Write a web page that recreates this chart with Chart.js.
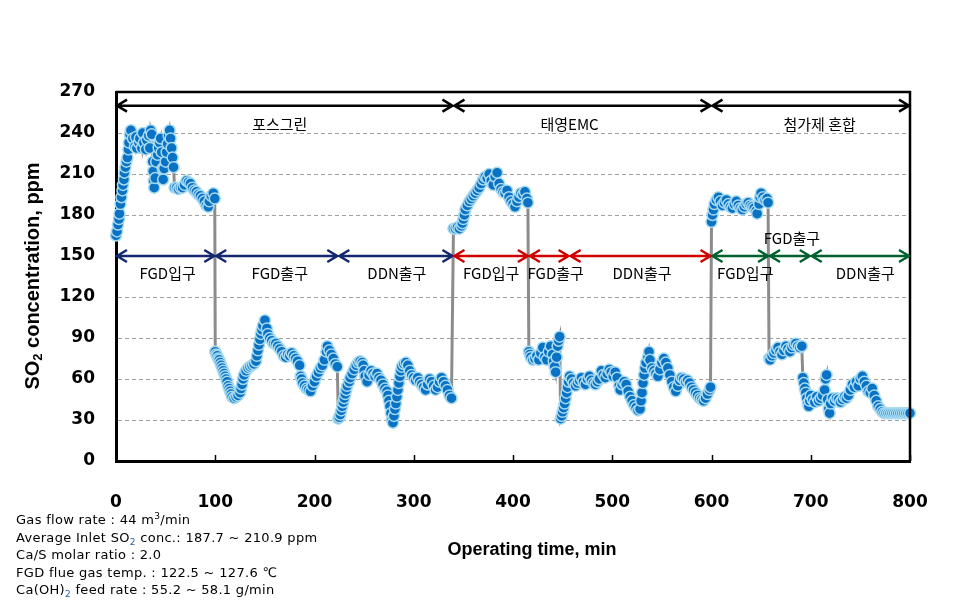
<!DOCTYPE html>
<html>
<head>
<meta charset="utf-8">
<script src="https://cdn.jsdelivr.net/npm/chart.js@4.4.0/dist/chart.umd.min.js"></script>
<style>
    html, body { margin: 0; padding: 0; background: #fff; }
    #wrap { position: relative; width: 980px; height: 601px; }
    #notes {
        position: absolute; left: 16px; top: 511px;
        font: 13px "DejaVu Sans", sans-serif; line-height: 17.5px; color: #000;
        letter-spacing: 0.3px; white-space: nowrap;
    }
    #notes sub { font-size: 9px; color: #1f5fa8; vertical-align: -3px; line-height: 0; }
    #notes sup { font-size: 9px; vertical-align: 5px; line-height: 0; }
</style>
</head>
<body>
<div id="wrap">
    <canvas id="chart" width="980" height="601"></canvas>
    <div id="notes">
        Gas flow rate : 44 m<sup>3</sup>/min<br>
        Average Inlet SO<sub>2</sub> conc.: 187.7 ~ 210.9 ppm<br>
        Ca/S molar ratio : 2.0<br>
        FGD flue gas temp. : 122.5 ~ 127.6 ℃<br>
        Ca(OH)<sub>2</sub> feed rate : 55.2 ~ 58.1 g/min
    </div>
</div>
<script>
// Operating time (min) of each measurement
const minutes = [
    // 포스그린 - FGD입구
    0, 1, 2, 3, 3.5, 4.5, 5.5, 6.5, 7, 8,
    8.5, 9.5, 10.5, 11.5, 12.5, 13, 14, 15, 17, 19,
    20, 21, 23, 24, 26, 27, 28, 30, 31, 33,
    34, 35, 36, 37, 37.5, 38, 38.5, 39.5, 40.5, 42,
    43, 44, 45, 46, 47, 47.5, 48.5, 50, 51, 52,
    53, 54, 55, 56, 57, 58, 59, 61, 63, 65,
    67, 69, 71, 73, 75, 77, 79, 81, 83, 85,
    87, 89, 91, 93, 94, 96, 98, 99.5,
    // 포스그린 - FGD출구
    100, 101, 102, 103, 104, 105, 106, 107, 108, 109,
    110, 111, 112, 113, 114, 115, 116, 117, 119, 121,
    123, 125, 126, 127, 128, 129, 131, 133, 135, 137,
    139, 141, 142, 143, 144, 145, 146, 147, 148, 150,
    152, 153, 155, 157, 159, 161, 163, 165, 167, 169,
    171, 173, 175, 177, 179, 181, 183, 185, 186, 187,
    188, 190, 192, 194, 196, 198, 200, 202, 204, 206,
    208, 210, 212, 213, 215, 217, 219, 221, 223,
    // 포스그린 - DDN출구
    224, 225, 226, 227, 228, 229, 230, 231, 232, 233,
    235, 236, 238, 240, 242, 244, 246, 248, 249, 250,
    251, 253, 255, 257, 259, 261, 263, 265, 267, 269,
    271, 273, 274, 275, 276, 277, 278, 279, 280, 281,
    282, 283, 284, 285, 286, 287, 288, 290, 292, 294,
    296, 298, 300, 302, 304, 306, 308, 310, 312, 314,
    316, 318, 320, 322, 324, 326, 328, 330, 332, 334,
    336, 338,
    // 태영EMC - FGD입구
    340, 342, 344, 346, 348, 349, 350, 351, 352, 354,
    356, 358, 360, 362, 364, 366, 368, 370, 372, 374,
    376, 378, 380, 382, 384, 386, 388, 390, 392, 394,
    396, 398, 400, 402, 404, 406, 408, 410, 412, 414,
    415,
    // 태영EMC - FGD출구
    416, 417, 418, 420, 422, 424, 426, 428, 430, 432,
    434, 436, 438, 440, 441, 442, 443, 444, 445, 446,
    447,
    // 태영EMC - DDN출구
    448, 449, 450, 451, 452, 453, 454, 455, 456, 457,
    459, 461, 463, 465, 467, 469, 471, 473, 475, 477,
    479, 481, 483, 485, 487, 489, 491, 493, 495, 497,
    499, 501, 503, 505, 507, 508, 510, 512, 514, 516,
    518, 520, 522, 524, 526, 528, 529, 530, 531, 532,
    533, 534, 536, 537, 538, 540, 542, 544, 546, 548,
    550, 552, 554, 556, 558, 560, 562, 564, 566, 568,
    570, 572, 574, 576, 578, 580, 582, 584, 586, 588,
    590, 592, 594, 596, 598, 599,
    // 첨가제 혼합 - FGD입구
    600, 601, 602, 603, 605, 607, 609, 611, 613, 615,
    617, 619, 621, 623, 625, 627, 629, 631, 633, 635,
    637, 639, 641, 643, 645, 646, 648, 649, 650, 652,
    654, 656, 657,
    // 첨가제 혼합 - FGD출구
    658, 659, 661, 663, 665, 667, 669, 671, 673, 675,
    677, 679, 681, 683, 685, 687, 689, 691,
    // 첨가제 혼합 - DDN출구
    692, 693, 694, 695, 696, 697, 698, 699, 700, 702,
    704, 706, 708, 710, 712, 714, 715, 716, 717, 718,
    719, 720, 722, 724, 726, 728, 730, 732, 734, 736,
    738, 740, 742, 744, 746, 748, 750, 752, 754, 756,
    758, 760, 762, 764, 766, 768, 770, 772, 774, 776,
    778, 780, 782, 784, 786, 788, 790, 792, 794, 796,
    798, 800
];

// SO2 concentration (ppm), same order as minutes
const so2ppm = [
    165, 168, 173, 177, 181, 188, 193, 198, 202, 206,
    211, 215, 219, 222, 228, 233, 239, 242, 236, 230,
    237, 229, 233, 236, 229, 240, 233, 228, 235, 238,
    229, 242, 239, 219, 212, 205, 200, 207, 219, 224,
    229, 233, 236, 226, 214, 206, 214, 219, 226, 232,
    238, 242, 236, 229, 222, 215, 200, 200, 199, 200,
    200, 202, 205, 204, 203, 200, 198, 197, 195, 194,
    192, 190, 187, 186, 190, 194, 196, 192,

    80, 78, 77, 75, 74, 72, 70, 68, 66, 64,
    62, 60, 58, 55, 53, 51, 49, 47, 46, 47,
    48, 50, 53, 56, 60, 63, 66, 68, 69, 70,
    71, 73, 77, 81, 85, 89, 93, 96, 99, 103,
    97, 93, 90, 88, 86, 86, 84, 82, 80, 77,
    76, 78, 77, 79, 77, 75, 73, 70, 62, 60,
    57, 55, 53, 52, 51, 55, 58, 62, 65, 68,
    70, 74, 80, 84, 81, 78, 75, 71, 69,

    31, 32, 34, 37, 40, 43, 46, 49, 52, 55,
    58, 61, 64, 67, 70, 72, 73, 72, 70, 66,
    62, 58, 63, 66, 64, 62, 64, 61, 59, 56,
    53, 51, 48, 44, 40, 35, 30, 28, 33, 38,
    42, 47, 52, 57, 62, 66, 69, 71, 72, 70,
    66, 63, 61, 59, 61, 58, 56, 54, 52, 56,
    60, 58, 55, 52, 54, 58, 61, 58, 55, 52,
    48, 46,

    170, 170, 171, 170, 172, 174, 177, 180, 184, 187,
    190, 192, 194, 196, 198, 200, 203, 206, 208, 207,
    210, 205, 202, 208, 211, 203, 199, 197, 196, 198,
    193, 190, 188, 186, 190, 193, 196, 195, 197, 192,
    189,

    80, 78, 76, 74, 75, 77, 74, 79, 83, 76,
    74, 80, 84, 78, 73, 69, 65, 76, 84, 88,
    91,

    31, 33, 36, 39, 42, 46, 50, 54, 58, 62,
    60, 57, 55, 57, 59, 61, 58, 56, 60, 62,
    59, 57, 56, 58, 60, 66, 63, 61, 64, 67,
    65, 62, 65, 61, 55, 52, 56, 58, 56, 51,
    47, 44, 41, 39, 37, 38, 44, 50, 57, 63,
    68, 72, 76, 80, 74, 68, 66, 64, 62, 67,
    72, 75, 72, 68, 63, 58, 54, 51, 55, 59,
    61, 60, 58, 59, 57, 54, 52, 50, 48, 46,
    45, 44, 46, 49, 52, 54,

    175, 180, 184, 188, 191, 193, 190, 187, 189, 191,
    188, 186, 185, 188, 190, 187, 185, 184, 186, 188,
    189, 187, 186, 185, 183, 181, 188, 193, 196, 193,
    191, 192, 189,

    75, 74, 77, 79, 81, 83, 80, 78, 81, 84,
    82, 80, 83, 85, 86, 84, 83, 84,

    61, 57, 53, 50, 46, 42, 40, 44, 48, 45,
    43, 47, 44, 46, 48, 52, 60, 63, 45, 38,
    35, 42, 46, 44, 46, 45, 43, 45, 47, 46,
    48, 52, 56, 54, 58, 55, 60, 62, 58, 55,
    51, 50, 53, 48, 44, 40, 38, 36, 35, 35,
    35, 35, 35, 35, 35, 35, 35, 35, 35, 35,
    35, 35
];

// Absorbent phases (top arrows)
const phaseEdges = [0, 340, 600, 800];
const phaseNames = ['포스그린', '태영EMC', '첨가제 혼합'];
const phaseLabelAt = [165, 457, 709];

// Sampling points inside each phase (lower arrows)
const pointEdges = [[0, 100, 224, 340], [340, 416, 457, 600], [600, 658, 700, 800]];
const pointNames = ['FGD입구', 'FGD출구', 'DDN출구'];
const pointLabelAt = [[52, 165, 283], [378, 443, 530], [634, 681, 755]];
const pointColors = ['#14286E', '#D00000', '#00602E'];

const xTicks = [0, 100, 200, 300, 400, 500, 600, 700, 800];

function drawArrow(ctx, x1, x2, y, color) {
    ctx.save();
    ctx.strokeStyle = color;
    ctx.lineWidth = 2.5;
    ctx.beginPath();
    ctx.moveTo(x1 + 1, y);
    ctx.lineTo(x2 - 1, y);
    ctx.moveTo(x1 + 11, y - 6);
    ctx.lineTo(x1 + 1, y);
    ctx.lineTo(x1 + 11, y + 6);
    ctx.moveTo(x2 - 11, y - 6);
    ctx.lineTo(x2 - 1, y);
    ctx.lineTo(x2 - 11, y + 6);
    ctx.stroke();
    ctx.restore();
}

const decorPlugin = {
    id: 'decor',
    afterDraw(chart) {
        const ctx = chart.ctx;
        const xs = chart.scales.x;
        const ys = chart.scales.y;
        const area = chart.chartArea;

        // top and right frame
        ctx.save();
        ctx.strokeStyle = '#000';
        ctx.lineWidth = 2.5;
        ctx.beginPath();
        ctx.moveTo(area.left, area.top);
        ctx.lineTo(area.right, area.top);
        ctx.lineTo(area.right, area.bottom);
        ctx.stroke();

        // inward x ticks
        ctx.lineWidth = 1.5;
        xTicks.forEach(t => {
            const px = Math.round(xs.getPixelForValue(t)) + 0.5;
            ctx.beginPath();
            ctx.moveTo(px, area.bottom);
            ctx.lineTo(px, area.bottom - 6);
            ctx.stroke();
        });
        ctx.restore();

        // phase arrows and labels
        ctx.save();
        ctx.fillStyle = '#000';
        ctx.textAlign = 'center';
        ctx.textBaseline = 'middle';
        ctx.font = '15px "Noto Sans CJK KR", sans-serif';
        const yTop = ys.getPixelForValue(260);
        for (let i = 0; i < phaseNames.length; i++) {
            drawArrow(ctx, xs.getPixelForValue(phaseEdges[i]), xs.getPixelForValue(phaseEdges[i + 1]), yTop, '#000');
            ctx.fillText(phaseNames[i], xs.getPixelForValue(phaseLabelAt[i]), ys.getPixelForValue(246.5));
        }

        const yLow = ys.getPixelForValue(150);
        for (let p = 0; p < pointEdges.length; p++) {
            const edges = pointEdges[p];
            for (let i = 0; i < pointNames.length; i++) {
                drawArrow(ctx, xs.getPixelForValue(edges[i]), xs.getPixelForValue(edges[i + 1]), yLow, pointColors[p]);
                // the short green FGD출구 span has its label above the arrow
                const labelY = (p === 2 && i === 1) ? 163 : 137;
                ctx.fillText(pointNames[i], xs.getPixelForValue(pointLabelAt[p][i]), ys.getPixelForValue(labelY));
            }
        }
        ctx.restore();

        // axis titles
        ctx.save();
        ctx.fillStyle = '#000';
        ctx.textBaseline = 'middle';
        ctx.textAlign = 'center';
        ctx.font = 'bold 18px "Liberation Sans", Arial, sans-serif';
        ctx.fillText('Operating time, min', 532, 550);

        ctx.translate(33, 276);
        ctx.rotate(-Math.PI / 2);
        ctx.textAlign = 'left';
        const bigFont = 'bold 20px "Liberation Sans", Arial, sans-serif';
        const smallFont = 'bold 13px "Liberation Sans", Arial, sans-serif';
        ctx.font = bigFont;
        const w1 = ctx.measureText('SO').width;
        const w3 = ctx.measureText(' concentration, ppm').width;
        ctx.font = smallFont;
        const w2 = ctx.measureText('2').width;
        let x = -(w1 + w2 + w3) / 2;
        ctx.font = bigFont;
        ctx.fillText('SO', x, 0);
        ctx.font = smallFont;
        ctx.fillText('2', x + w1, 5);
        ctx.font = bigFont;
        ctx.fillText(' concentration, ppm', x + w1 + w2, 0);
        ctx.restore();
    }
};

const tickFont = { family: '"DejaVu Sans", sans-serif', weight: 'bold', size: 17 };

new Chart(document.getElementById('chart'), {
    type: 'line',
    data: {
        datasets: [{
            data: minutes.map((m, i) => ({ x: m, y: so2ppm[i] })),
            borderColor: '#8C8C8C',
            borderWidth: 3,
            pointRadius: 5.5,
            pointBackgroundColor: '#0A72C4',
            pointBorderColor: '#A9DBF0',
            pointBorderWidth: 1.5,
            tension: 0,
            clip: false
        }]
    },
    options: {
        responsive: false,
        animation: false,
        layout: { padding: { top: 92, right: 70, bottom: 0, left: 0 } },
        plugins: {
            legend: { display: false },
            tooltip: { enabled: false }
        },
        scales: {
            x: {
                type: 'linear',
                min: 0,
                max: 800,
                afterBuildTicks: s => { s.ticks = xTicks.map(v => ({ value: v })); },
                ticks: { padding: 23, color: '#000', font: tickFont, maxRotation: 0 },
                grid: { display: false },
                border: { display: true, color: '#000', width: 3 },
                afterFit: s => { s.height = 140; }
            },
            y: {
                min: 0,
                max: 270,
                ticks: { stepSize: 30, padding: 21, color: '#000', font: tickFont },
                grid: {
                    drawTicks: false,
                    lineWidth: 1,
                    color: c => (c.tick && c.tick.value > 0 && c.tick.value < 270) ? '#A0A0A0' : 'rgba(0,0,0,0)'
                },
                border: { display: true, color: '#000', width: 3, dash: [4, 3] },
                afterFit: s => { s.width = 116; }
            }
        }
    },
    plugins: [decorPlugin]
});
</script>
</body>
</html>
